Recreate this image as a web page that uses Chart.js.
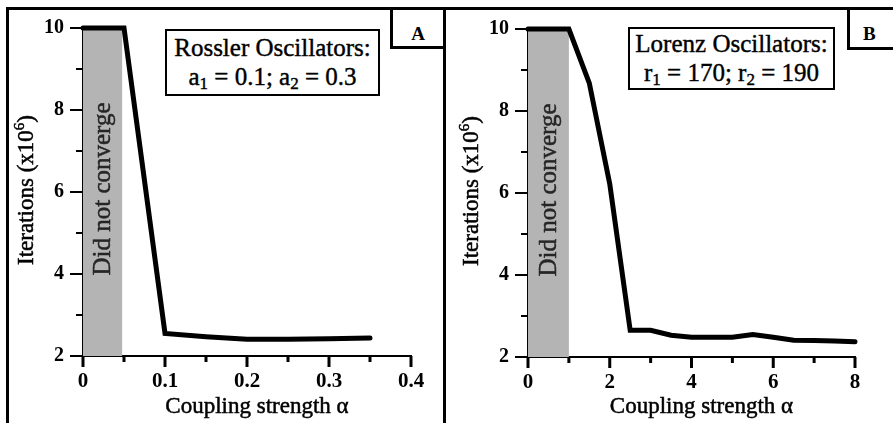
<!DOCTYPE html>
<html>
<head>
<meta charset="utf-8">
<script src="https://cdn.jsdelivr.net/npm/chart.js@4.4.0/dist/chart.umd.min.js"></script>
<style>
  body { margin: 0; width: 893px; height: 423px; overflow: hidden; position: relative; background: #fff; font-family: "Liberation Serif", "Times New Roman", serif; }
  canvas { position: absolute; top: 0; }
  #graficoA { left: 0; }
  #graficoB { left: 445px; }
  .moldura { position: absolute; left: 6px; top: 7px; width: 950px; height: 500px; border-left: 3px solid #000; border-top: 3px solid #000; }
  .divisor { position: absolute; left: 443px; top: 7px; width: 3px; height: 430px; background: #000; }
  .rotulo { position: absolute; top: 7px; box-sizing: border-box; border: 3px solid #000; background: #fff; font-weight: bold; font-size: 19px; line-height: 1; text-align: center; padding-top: 14px; }
  .caixa { position: absolute; box-sizing: border-box; border: 2px solid #000; background: #fff; font-size: 25px; line-height: 29px; text-align: center; padding-top: 2px; white-space: nowrap; -webkit-text-stroke: 0.4px #000; }
  .caixa sub { font-size: 68%; vertical-align: -0.22em; line-height: 0; }
</style>
</head>
<body>
<canvas id="graficoA" width="445" height="423"></canvas>
<canvas id="graficoB" width="448" height="423"></canvas>

<div class="moldura"></div>
<div class="divisor"></div>
<div class="rotulo" style="left:390px; width:56px; height:42px;">A</div>
<div class="rotulo" style="left:847px; width:60px; height:43px; text-align:left; padding-left:13px;">B</div>
<div class="caixa" style="left:165px; top:29px; width:215px; height:67px;">Rossler Oscillators:<br>a<sub>1</sub> = 0.1; a<sub>2</sub> = 0.3</div>
<div class="caixa" style="left:628px; top:27px; width:207px; height:63px; padding-top:0;">Lorenz Oscillators:<br>r<sub>1</sub> = 170; r<sub>2</sub> = 190</div>

<script>
// Painel A: osciladores de Rossler
const alfaA = [0, 0.05, 0.1, 0.15, 0.2, 0.25, 0.3, 0.35];
const iterA = [10, 10, 2.55, 2.47, 2.41, 2.41, 2.42, 2.44];
const faixaA = [0, 0.048];              // região sem convergência
const rotulosXA = [0, 0.1, 0.2, 0.3, 0.4];

// Painel B: osciladores de Lorenz
const alfaB = [0, 1, 1.5, 2, 2.5, 3, 3.5, 4, 4.5, 5, 5.5, 6, 6.5, 7, 7.5, 8];
const iterB = [10, 10, 8.68, 6.22, 2.65, 2.65, 2.53, 2.48, 2.48, 2.48, 2.55, 2.48, 2.41, 2.40, 2.39, 2.37];
const faixaB = [0, 1];
const rotulosXB = [0, 2, 4, 6, 8];

const rotulosY = [2, 4, 6, 8, 10];
const tetoY = 10;

const FONTE = '"Liberation Serif", "Times New Roman", serif';

function ehRotulo(lista, v) {
    return lista.find(r => Math.abs(r - v) < 1e-9);
}

// escreve texto com um contorno fino para engrossar o traço
function texto(ctx, s, x, y) {
    ctx.fillText(s, x, y);
    ctx.strokeText(s, x, y);
}

// Marcas dos eixos (longas nos valores rotulados), textos da faixa e títulos
const decoracao = {
    id: 'decoracao',
    afterDraw(chart, args, opts) {
        const ctx = chart.ctx;
        const x = chart.scales.x, y = chart.scales.y;
        ctx.save();
        ctx.strokeStyle = '#000';

        ctx.beginPath();
        ctx.lineWidth = 3;
        x.ticks.forEach(t => {
            const px = x.getPixelForValue(t.value);
            const longo = ehRotulo(opts.rotulosX, t.value) !== undefined;
            ctx.moveTo(px, x.top);
            ctx.lineTo(px, x.top + (longo ? 11 : 6));
        });
        ctx.stroke();

        ctx.beginPath();
        ctx.lineWidth = 2;
        y.ticks.forEach(t => {
            const py = y.getPixelForValue(t.value);
            const longo = ehRotulo(rotulosY, t.value) !== undefined;
            ctx.moveTo(y.right, py);
            ctx.lineTo(y.right - (longo ? 13 : 7), py);
        });
        ctx.stroke();

        ctx.lineWidth = 0.5;

        // texto dentro da faixa cinza
        const cx = x.getPixelForValue((opts.faixa[0] + opts.faixa[1]) / 2);
        const cy = (y.top + y.bottom) / 2 - 3;
        ctx.save();
        ctx.translate(cx + 1, cy);
        ctx.rotate(-Math.PI / 2);
        ctx.fillStyle = '#262626';
        ctx.strokeStyle = '#262626';
        ctx.font = '25px ' + FONTE;
        ctx.textAlign = 'center';
        ctx.textBaseline = 'middle';
        texto(ctx, 'Did not converge', 0, 0);
        ctx.restore();

        // título do eixo x
        ctx.fillStyle = '#000';
        ctx.font = '23px ' + FONTE;
        ctx.textAlign = 'center';
        ctx.textBaseline = 'middle';
        texto(ctx, 'Coupling strength \u03b1', (x.left + x.right) / 2 + 10, 407);

        // título do eixo y com expoente
        ctx.save();
        ctx.translate(27, (y.top + y.bottom) / 2 - 2);
        ctx.rotate(-Math.PI / 2);
        ctx.textAlign = 'left';
        ctx.textBaseline = 'middle';
        const base = 'Iterations (x10';
        ctx.font = '23px ' + FONTE;
        const w1 = ctx.measureText(base).width;
        const w3 = ctx.measureText(')').width;
        ctx.font = '15px ' + FONTE;
        const w2 = ctx.measureText('6').width;
        let px = -(w1 + w2 + w3) / 2;
        ctx.font = '23px ' + FONTE;
        texto(ctx, base, px, 0);
        ctx.font = '15px ' + FONTE;
        texto(ctx, '6', px + w1, -7);
        ctx.font = '23px ' + FONTE;
        texto(ctx, ')', px + w1 + w2, 0);
        ctx.restore();

        ctx.restore();
    }
};

function criarGrafico(id, cfg) {
    const ctx = document.getElementById(id).getContext('2d');
    return new Chart(ctx, {
        type: 'line',
        data: {
            datasets: [
                {
                    data: cfg.alfa.map((a, i) => ({ x: a, y: cfg.iter[i] })),
                    borderColor: '#000',
                    borderWidth: 5,
                    borderCapStyle: 'round',
                    pointRadius: 0,
                    tension: 0,
                    fill: false,
                    clip: false
                },
                {
                    data: cfg.faixa.map(a => ({ x: a, y: tetoY })),
                    borderColor: 'transparent',
                    borderWidth: 0,
                    backgroundColor: '#b4b4b4',
                    pointRadius: 0,
                    fill: 'start'
                }
            ]
        },
        options: {
            responsive: false,
            animation: false,
            events: [],
            layout: { padding: cfg.padding },
            plugins: {
                legend: { display: false },
                tooltip: { enabled: false },
                decoracao: { rotulosX: cfg.rotulosX, faixa: cfg.faixa }
            },
            scales: {
                x: {
                    type: 'linear',
                    min: cfg.xMin,
                    max: cfg.xMax,
                    afterFit: s => { s.height = cfg.alturaX; },
                    grid: { display: false, drawTicks: true, tickLength: 11 },
                    border: { display: true, color: '#000', width: 2 },
                    ticks: {
                        stepSize: cfg.passoX,
                        autoSkip: false,
                        maxRotation: 0,
                        padding: 2,
                        color: '#000',
                        font: { family: FONTE, size: 21, weight: 'bold', lineHeight: 1.2 },
                        callback: v => {
                            const r = ehRotulo(cfg.rotulosX, v);
                            return r === undefined ? '' : String(r);
                        }
                    }
                },
                y: {
                    type: 'linear',
                    min: 2,
                    max: tetoY,
                    afterFit: s => { s.width = 83; },
                    grid: { display: false, drawTicks: true, tickLength: 13 },
                    border: { display: true, color: '#000', width: 2 },
                    ticks: {
                        stepSize: 1,
                        autoSkip: false,
                        padding: 6,
                        color: '#000',
                        font: { family: FONTE, size: 20, weight: 'bold' },
                        callback: v => {
                            const r = ehRotulo(rotulosY, v);
                            return r === undefined ? '' : String(r);
                        }
                    }
                }
            }
        },
        plugins: [decoracao]
    });
}

criarGrafico('graficoA', {
    alfa: alfaA, iter: iterA, faixa: faixaA, rotulosX: rotulosXA,
    xMin: 0, xMax: 0.4, passoX: 0.05,
    alturaX: 67,
    padding: { top: 28, right: 34, left: 0, bottom: 0 }
});

criarGrafico('graficoB', {
    alfa: alfaB, iter: iterB, faixa: faixaB, rotulosX: rotulosXB,
    xMin: 0, xMax: 8, passoX: 1,
    alturaX: 66,
    padding: { top: 29, right: 38, left: 0, bottom: 0 }
});
</script>
</body>
</html>
